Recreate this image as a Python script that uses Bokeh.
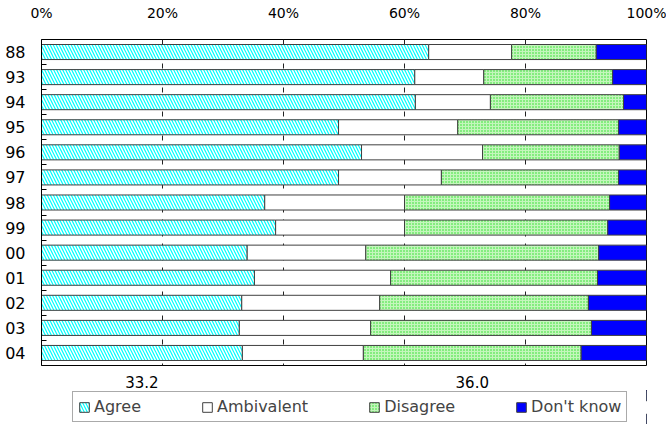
from bokeh.plotting import figure
from bokeh.layouts import column
from bokeh.models import (Range1d, FixedTicker, ColumnDataSource, Legend, LegendItem, LinearAxis)
from bokeh.embed import file_html
from bokeh.resources import INLINE

# Survey responses by year (percent of respondents)
years = ["88", "93", "94", "95", "96", "97", "98", "99", "00", "01", "02", "03", "04"]
agree = [64.0, 61.7, 61.8, 49.1, 52.9, 49.1, 36.9, 38.7, 34.0, 35.2, 33.1, 32.7, 33.2]
ambivalent = [13.7, 11.4, 12.4, 19.7, 20.0, 17.0, 23.1, 21.3, 19.6, 22.5, 22.8, 21.7, 20.0]
disagree = [14.0, 21.3, 22.0, 26.6, 22.6, 29.3, 33.9, 33.6, 38.5, 34.2, 34.5, 36.5, 36.0]
dont_know = [8.3, 5.6, 3.8, 4.6, 4.5, 4.6, 6.1, 6.4, 7.9, 8.1, 9.6, 9.1, 10.8]
names = ["Agree", "Ambivalent", "Disagree", "Don't know"]
x_ticks = [0, 20, 40, 60, 80, 100]

FONT = "DejaVu Sans"

rows = list(range(len(years)))
series = [agree, ambivalent, disagree, dont_know]
sources = []
base = [0.0] * len(years)
for s in series:
    top = [b + v for b, v in zip(base, s)]
    sources.append(ColumnDataSource(dict(y=rows, left=list(base), right=top)))
    base = top

styles = [
    dict(fill_color="#00ffff", hatch_pattern="\\", hatch_color="white", hatch_scale=6, hatch_weight=1.5),
    dict(fill_color="white"),
    dict(fill_color="#c4f6bc", hatch_pattern=".", hatch_color="#22dd22", hatch_scale=3, hatch_weight=1.4),
    dict(fill_color="#0000ff"),
]
bar_line = dict(line_color="#404040", line_width=1)

p = figure(width=666, height=390, output_backend="svg", toolbar_location=None,
           x_range=Range1d(0, 100), y_range=Range1d(len(years) - 0.5, -0.5),
           x_axis_location="above",
           min_border_left=41, min_border_right=20, min_border_top=39, min_border_bottom=20)
p.outline_line_color = "black"
p.outline_line_width = 1
p.background_fill_color = "white"
p.border_fill_color = "white"

# vertical grid at 20% steps
p.xgrid.ticker = FixedTicker(ticks=x_ticks[1:-1])
p.xgrid.grid_line_color = "#222222"
p.xgrid.grid_line_dash = "5 7"
p.ygrid.grid_line_color = None

# top percent axis
xa = p.xaxis[0]
xa.ticker = FixedTicker(ticks=x_ticks)
xa.major_label_overrides = {t: f"{t}%" for t in x_ticks}
xa.axis_line_color = None
xa.major_tick_line_color = None
xa.minor_tick_line_color = None
xa.major_label_standoff = 13
xa.major_label_text_font = FONT
xa.major_label_text_font_size = "14px"
xa.major_label_text_color = "black"

# year axis, with small ticks between the rows
ya = p.yaxis[0]
ya.ticker = FixedTicker(ticks=rows, minor_ticks=[r + 0.5 for r in rows[:-1]])
ya.major_label_overrides = {r: y for r, y in zip(rows, years)}
ya.axis_line_color = "black"
ya.major_tick_line_color = None
ya.minor_tick_line_color = "black"
ya.minor_tick_in = 5
ya.minor_tick_out = 0
ya.major_label_standoff = 10
ya.major_label_text_font = FONT
ya.major_label_text_font_size = "16px"
ya.major_label_text_color = "black"

for src, st in zip(sources, styles):
    p.hbar(y="y", left="left", right="right", height=0.6, source=src, **bar_line, **st)

# value labels under the last row (agree and disagree shares)
last = len(years) - 1
label_pos = [round((sources[k].data["left"][last] + sources[k].data["right"][last]) / 2, 2)
             for k in (0, 2)]
label_txt = [f"{agree[last]:.1f}", f"{disagree[last]:.1f}"]
va = LinearAxis(ticker=FixedTicker(ticks=label_pos),
                major_label_overrides={x: t for x, t in zip(label_pos, label_txt)},
                axis_line_color=None, major_tick_line_color=None, minor_tick_line_color=None,
                major_label_standoff=4, major_label_text_font=FONT,
                major_label_text_font_size="15px", major_label_text_color="black")
p.add_layout(va, "below")

# legend strip underneath the chart; its bars sit outside the visible range
lf = figure(width=666, height=34, output_backend="svg", toolbar_location=None,
            x_range=Range1d(-2, -1), y_range=Range1d(0, 1),
            min_border_left=0, min_border_right=0, min_border_top=0, min_border_bottom=0)
lf.axis.visible = False
lf.grid.visible = False
lf.outline_line_color = None
lf.border_fill_color = "white"
lf.background_fill_color = "white"
swatches = [lf.hbar(y="y", left="left", right="right", height=0.6, source=src, **bar_line, **st)
            for src, st in zip(sources, styles)]

legend = Legend(items=[LegendItem(label=n, renderers=[r]) for n, r in zip(names, swatches)],
                orientation="horizontal", location=(31, 2),
                border_line_color="#555555", border_line_width=1,
                background_fill_color="white", background_fill_alpha=1,
                label_text_font=FONT, label_text_font_size="16px",
                glyph_width=12, glyph_height=12, label_standoff=4,
                spacing=60, padding=5, margin=0)
lf.add_layout(legend, "center")

layout = column(p, lf, spacing=0)
open("out.html", "w").write(file_html(layout, INLINE))
